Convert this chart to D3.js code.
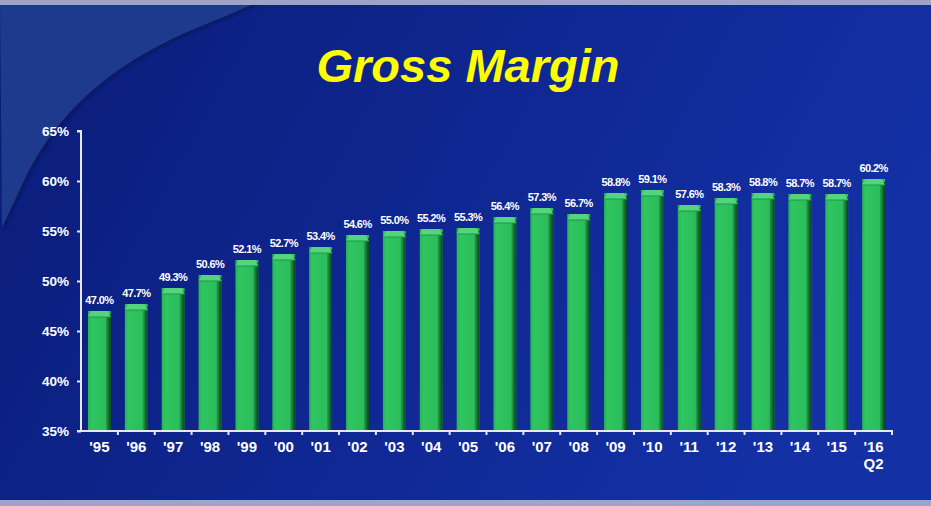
<!DOCTYPE html>
<html><head><meta charset="utf-8">
<script src="https://cdn.jsdelivr.net/npm/d3@7/dist/d3.min.js"></script>
<style>html,body{margin:0;padding:0;background:#0e2488;}svg{display:block;}</style>
</head><body>
<script>
const categories = ["'95","'96","'97","'98","'99","'00","'01","'02","'03","'04","'05","'06","'07","'08","'09","'10","'11","'12","'13","'14","'15","'16"];
const subLabels = ["","","","","","","","","","","","","","","","","","","","","","Q2"];
const values = [47.0,47.7,49.3,50.6,52.1,52.7,53.4,54.6,55.0,55.2,55.3,56.4,57.3,56.7,58.8,59.1,57.6,58.3,58.8,58.7,58.7,60.2];
const yTicks = [35,40,45,50,55,60,65];
const title = "Gross Margin";

const W = 931, H = 506;
const svg = d3.select("body").append("svg").attr("width", W).attr("height", H);
const defs = svg.append("defs");

const bg = defs.append("linearGradient").attr("id","bg").attr("x1","0").attr("y1","0").attr("x2","1").attr("y2","0.3");
bg.append("stop").attr("offset","0").attr("stop-color","#0a1c78");
bg.append("stop").attr("offset","0.55").attr("stop-color","#0f2792");
bg.append("stop").attr("offset","1").attr("stop-color","#1330a4");

const side = defs.append("linearGradient").attr("id","side").attr("x1","0").attr("x2","1");
side.append("stop").attr("offset","0").attr("stop-color","#24a64e");
side.append("stop").attr("offset","1").attr("stop-color","#06401a");
const body = defs.append("linearGradient").attr("id","body").attr("x1","0").attr("x2","1");
body.append("stop").attr("offset","0").attr("stop-color","#27b356");
body.append("stop").attr("offset","0.15").attr("stop-color","#2fc560");
body.append("stop").attr("offset","1").attr("stop-color","#2abb5a");

const sh = defs.append("filter").attr("id","arcsh").attr("x","-10%").attr("y","-10%").attr("width","120%").attr("height","120%");
sh.append("feGaussianBlur").attr("stdDeviation",1.5);

// background
svg.append("rect").attr("width",W).attr("height",H).attr("fill","url(#bg)");
// lighter top-left arc region
const arcPts = [[262,0],[233,13],[170,40],[123,67],[85,97],[55,130],[32,165],[15,200],[2,228]];
const line = d3.line().curve(d3.curveCatmullRom);
svg.append("path").attr("d", line(arcPts) + "L0,0Z").attr("fill","#07145e").attr("filter","url(#arcsh)").attr("transform","translate(2,2)");
svg.append("path").attr("d", line(arcPts) + "L0,0Z").attr("fill","#1e3a8c");
// top / bottom bands
svg.append("rect").attr("x",0).attr("y",0).attr("width",W).attr("height",5).attr("fill","#9ea2c8");
svg.append("rect").attr("x",0).attr("y",500).attr("width",W).attr("height",6).attr("fill","#9fa4cf");

// title
svg.append("text").attr("x",468).attr("y",82).attr("text-anchor","middle")
  .attr("font-family","Liberation Sans, Arial, sans-serif").attr("font-weight","bold").attr("font-style","italic")
  .attr("font-size",47).attr("fill","#ffff00").text(title);

const x0 = 81, x1 = 892;
const x = d3.scaleBand().domain(categories).range([x0,x1]).paddingInner(0.38).paddingOuter(0.19);
const y = d3.scaleLinear().domain([35,65]).range([431,131]);

// bars
const bw = x.bandwidth();
const g = svg.append("g");
categories.forEach((c,i) => {
  const bx = x(c), top = y(values[i]), bot = y(35);
  const bar = g.append("g");
  bar.append("rect").attr("x",bx).attr("y",top).attr("width",bw).attr("height",bot-top).attr("fill","url(#body)");
  bar.append("rect").attr("x",bx+bw-5).attr("y",top+3).attr("width",5).attr("height",bot-top-3).attr("fill","url(#side)");
  bar.append("path").attr("d",`M${bx},${top+6}L${bx+3},${top}L${bx+bw-3},${top}L${bx+bw},${top+6}Z`).attr("fill","#55d47e");
  bar.append("path").attr("d",`M${bx},${top+6}L${bx+bw},${top+6}`).attr("stroke","#1d9a45").attr("stroke-width",1);
  g.append("text").attr("x",bx+bw/2).attr("y",top-7).attr("text-anchor","middle")
    .attr("font-family","Liberation Sans, Arial, sans-serif").attr("font-weight","bold").attr("font-size",11)
    .attr("letter-spacing","-0.6").attr("fill","#ffffff").text(values[i].toFixed(1)+"%");
});

// y axis
const yAxis = svg.append("g").attr("transform",`translate(${x0},0)`)
  .call(d3.axisLeft(y).tickValues(yTicks).tickSize(4).tickPadding(8).tickFormat(d => d + "%"));
yAxis.select(".domain").attr("stroke","#e6e8f2").attr("stroke-width",2).attr("d",`M-4,${y(65)}H0V${y(35)}`);
yAxis.selectAll(".tick line").attr("stroke","#e6e8f2").attr("stroke-width",2);
yAxis.selectAll("text").attr("fill","#ffffff").attr("font-family","Liberation Sans, Arial, sans-serif")
  .attr("font-weight","bold").attr("font-size",13.5);

// x axis
const xAxis = svg.append("g").attr("transform",`translate(0,${y(35)})`)
  .call(d3.axisBottom(x).tickSize(0).tickPadding(10).tickFormat(d => d));
xAxis.select(".domain").attr("stroke","#e6e8f2").attr("stroke-width",2).attr("d",`M${x0-4},0H${x1}V4`);
xAxis.selectAll("text").attr("fill","#ffffff").attr("font-family","Liberation Sans, Arial, sans-serif")
  .attr("font-weight","bold").attr("font-size",15);
const step = x.step();
categories.forEach((c,i) => {
  if (i===0) return;
  const tx = x0 + i*step;
  xAxis.append("line").attr("x1",tx).attr("x2",tx).attr("y1",0).attr("y2",4).attr("stroke","#e6e8f2").attr("stroke-width",2);
});
categories.forEach((c,i) => {
  if (!subLabels[i]) return;
  xAxis.append("text").attr("x",x(c)+bw/2).attr("y",38).attr("text-anchor","middle").attr("fill","#ffffff")
    .attr("font-family","Liberation Sans, Arial, sans-serif").attr("font-weight","bold").attr("font-size",15).text(subLabels[i]);
});
</script>
</body></html>
